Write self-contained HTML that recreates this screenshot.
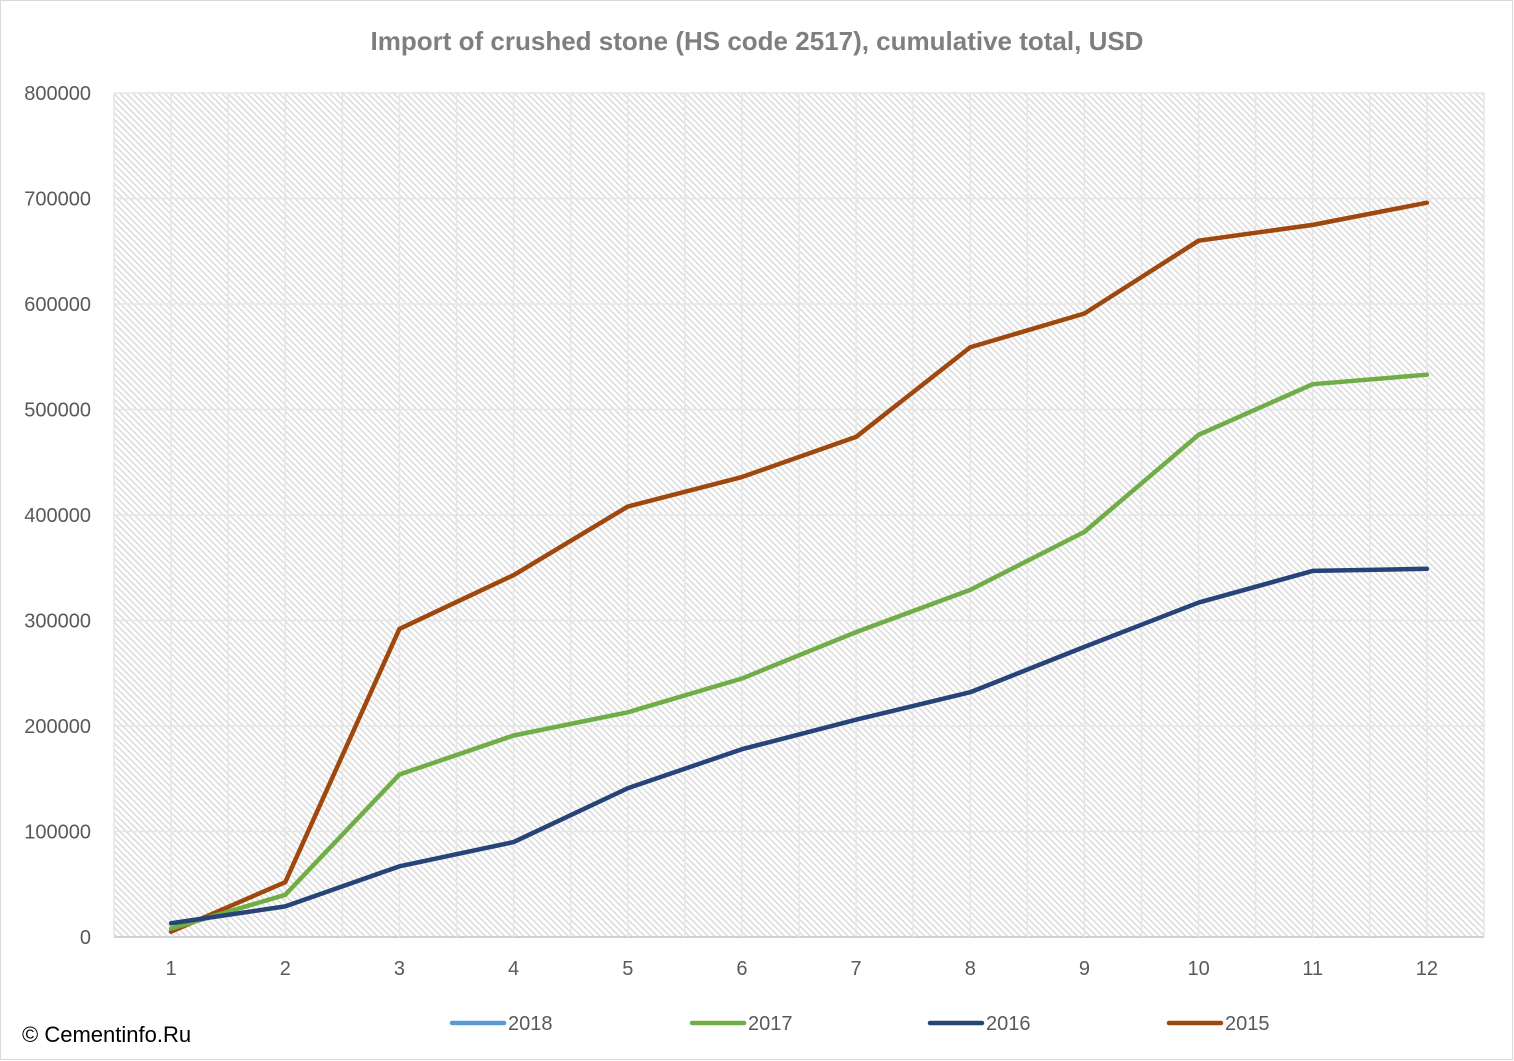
<!DOCTYPE html>
<html><head><meta charset="utf-8"><style>
html,body{margin:0;padding:0;background:#fff}
svg{display:block;font-family:"Liberation Sans",sans-serif}
</style></head><body>
<svg id="chart" width="1514" height="1061" xmlns="http://www.w3.org/2000/svg">
<defs>
<pattern id="hatch" patternUnits="userSpaceOnUse" width="4.5" height="4.5" patternTransform="rotate(-45)">
<rect width="4.5" height="4.5" fill="#ffffff"/>
<rect width="1.6" height="4.5" fill="#dcdcdc"/>
</pattern>
</defs>
<rect x="0.5" y="0.5" width="1512" height="1059" fill="#fff" stroke="#d9d9d9"/>
<text x="757" y="50" text-anchor="middle" font-size="26" font-weight="bold" fill="#7f7f7f">Import of crushed stone (HS code 2517), cumulative total, USD</text>
<rect x="114" y="93" width="1370" height="844" fill="url(#hatch)"/>
<g id="grid"></g>
<g id="yticks"></g>
<g id="xticks"></g>
<g id="series"></g>
<g id="legend"></g>
<text x="22" y="1042" font-size="22" fill="#000">© Cementinfo.Ru</text>
</svg>
<script>
const categories = [1,2,3,4,5,6,7,8,9,10,11,12];
const yTicks = [0,100000,200000,300000,400000,500000,600000,700000,800000];
const s2018 = [];
const s2017 = [8000,40000,154000,191000,213000,245000,289000,329000,384000,476000,524000,533000];
const s2016 = [13000,29000,67000,90000,141000,178000,206000,232000,275000,317000,347000,349000];
const s2015 = [5000,52000,292000,343000,408000,436000,474000,559000,591000,660000,675000,696000];
const seriesNames = ["2018","2017","2016","2015"];
const seriesColors = ["#5b9bd5","#70ad47","#264478","#9e480e"];
const seriesData = [s2018,s2017,s2016,s2015];

const NS="http://www.w3.org/2000/svg";
const L=114,R=1484,T=93,B=937,yMax=800000;
const step=(R-L)/categories.length;
const xs=i=>L+step*(i+0.5);
const ys=v=>B-(v/yMax)*(B-T);
function mk(t,a,p){const e=document.createElementNS(NS,t);for(const k in a)e.setAttribute(k,a[k]);p.appendChild(e);return e;}
const grid=document.getElementById('grid');
yTicks.forEach(v=>{
 const l=mk('line',{x1:L,x2:R,y1:ys(v),y2:ys(v),stroke:v===0?'#d0d0d0':'#e6e6e6','stroke-width':v===0?2:1.5},grid);
 
 
 const t=mk('text',{x:91,y:ys(v)+7,'text-anchor':'end','font-size':20,fill:'#595959'},document.getElementById('yticks'));
 t.textContent=v;
 
 
});
for(let i=0;i<=categories.length*2;i++){
 const x=L+i*step/2;
 const l=mk('line',{x1:x,x2:x,y1:T,y2:B,stroke:'#e6e6e6','stroke-width':1.5},grid);
 
 
}
categories.forEach((c,i)=>{
 const t=mk('text',{x:xs(i),y:975,'text-anchor':'middle','font-size':20,fill:'#595959'},document.getElementById('xticks'));
 t.textContent=c;
 
 
});
const sg=document.getElementById('series');
[3,1,2,0].forEach(k=>{
 const d=seriesData[k];
 if(!d.length)return;
 const pts=d.map((v,i)=>xs(i)+','+ys(v)).join(' ');
 const p=mk('polyline',{points:pts,fill:'none',stroke:seriesColors[k],'stroke-width':4.5,'stroke-linejoin':'round','stroke-linecap':'round'},sg);
 
 
});
const lg=document.getElementById('legend');
const lx=[450,690,928,1167];
seriesNames.forEach((n,k)=>{
 const g=mk('g',{},lg);
 
 
 mk('line',{x1:lx[k]+2,x2:lx[k]+54,y1:1023,y2:1023,stroke:seriesColors[k],'stroke-width':4.5,'stroke-linecap':'round'},g);
 const t=mk('text',{x:lx[k]+58,y:1030,'font-size':20,fill:'#595959'},g);
 t.textContent=n;
});
</script>
</body></html>
